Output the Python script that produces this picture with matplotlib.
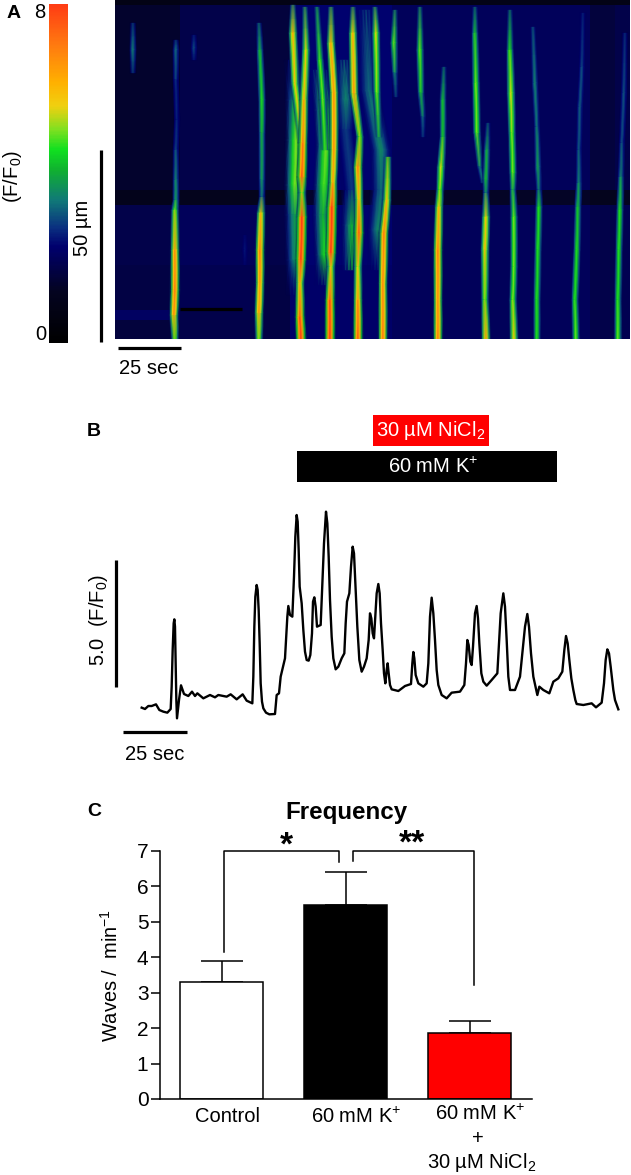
#!/usr/bin/env python3
"""Calcium wave figure: A line scan, B fluorescence trace, C wave frequency bars."""
import matplotlib
matplotlib.use('Agg')
import matplotlib.pyplot as plt
from matplotlib.cm import ScalarMappable
from matplotlib.colors import LinearSegmentedColormap, Normalize
import numpy as np

W, H = 631, 1175
matplotlib.rcParams.update({
    'font.family': 'Liberation Sans',
    'mathtext.fontset': 'custom',
    'mathtext.rm': 'Liberation Sans',
    'mathtext.it': 'Liberation Sans:italic',
    'mathtext.bf': 'Liberation Sans:bold',
    'mathtext.default': 'rm',
})
TEXT_SIZE = 14.5
LABEL_SIZE = 14

# ---- Panel A data, x and y in scan pixels, amp in F/F0 ----
SEC_PER_PX = 1 / 2.52
UM_PER_PX = 1 / 3.84
SCAN_X0, SCAN_X1, SCAN_Y0, SCAN_Y1 = 115, 630, 0, 339

scale_fracs = [0, 0.15, 0.285, 0.34, 0.42, 0.51, 0.57, 0.63, 0.70, 0.77, 0.88, 1]
scale_colors = ['#000000', '#040420', '#00006e', '#0a3080', '#107878', '#10b030',
                '#10e020', '#80e020', '#f0d010', '#ffb000', '#ff7a10', '#ff3c14']

bg_x_edges = [115, 180, 260, 290, 392, 590, 615, 630]
bg_y_edges = [0, 5, 190, 205, 265, 310, 320, 339]
bg_levels = [
    [0.8, 0.9, 0.8, 0.9, 0.9, 0.8, 0.8],
    [1.4, 1.8, 1.6, 2.3, 2.0, 1.6, 1.8],
    [1.0, 1.1, 1.0, 1.4, 1.3, 1.1, 1.2],
    [1.8, 2.0, 1.8, 2.3, 2.0, 1.8, 1.9],
    [1.7, 1.9, 1.7, 2.2, 2.0, 1.8, 1.9],
    [2.1, 1.8, 1.7, 2.2, 2.0, 1.8, 1.9],
    [1.6, 1.8, 1.7, 2.2, 2.0, 1.8, 1.9],
]

# diffuse glow around the clustered waves
d1_x = [295, 296, 296, 295, 295, 296, 297]
d1_y = [60, 100, 140, 185, 215, 260, 295]
d1_a = [2.8, 4.0, 5.0, 5.0, 3.8, 3.8, 2.4]
d2_x = [320, 324, 326, 324, 323, 325, 325]
d2_y = [70, 110, 145, 185, 215, 255, 285]
d2_a = [3.6, 4.6, 5.0, 4.8, 4.0, 4.6, 2.6]
d3_x = [344, 346, 346, 352, 352, 352]
d3_y = [60, 100, 130, 190, 225, 270]
d3_a = [3.2, 3.5, 2.8, 2.8, 4.0, 4.2]
d4_x = [366, 369, 381, 381, 378, 378]
d4_y = [10, 90, 150, 190, 230, 270]
d4_a = [3.0, 3.2, 3.6, 3.2, 3.6, 2.5]

# one streak per wave
w01_x = [133, 133, 133]
w01_y = [23, 50, 73]
w01_a = [2.6, 3.5, 2.6]
w02_x = [194, 194, 194]
w02_y = [35, 48, 60]
w02_a = [2.4, 3.0, 2.4]
w03_x = [245, 245, 245]
w03_y = [235, 250, 265]
w03_a = [2.2, 2.5, 2.2]
w04_x = [176, 176, 176, 177, 176, 176, 176, 175, 175, 175, 174, 175]
w04_y = [40, 50, 80, 120, 150, 180, 200, 210, 250, 290, 315, 339]
w04_a = [2.6, 3.3, 2.7, 2.5, 2.9, 3.5, 3.7, 5.0, 6.6, 7.0, 6.6, 4.8]
w05_x = [259, 260, 262, 262, 262, 262, 261, 260, 260, 259, 259]
w05_y = [23, 50, 100, 133, 180, 197, 213, 250, 283, 313, 339]
w05_a = [3.0, 4.0, 4.6, 4.0, 3.7, 3.2, 6.0, 7.0, 6.5, 6.5, 5.0]
w06_x = [293, 293, 295, 302]
w06_y = [5, 33, 83, 143]
w06_a = [3.5, 6.2, 5.8, 5.6]
w07_x = [305, 306, 304, 303, 302, 302, 302, 301, 300, 300, 301]
w07_y = [7, 50, 100, 143, 177, 193, 217, 260, 283, 317, 339]
w07_a = [3.5, 5.6, 6.2, 7.0, 7.6, 5.2, 8.0, 8.0, 6.0, 7.6, 8.0]
w08_x = [317, 320, 323, 325]
w08_y = [7, 60, 100, 150]
w08_a = [3.5, 4.8, 5.0, 4.6]
w09_x = [331, 331, 334, 334, 333, 332, 331, 331, 330, 330]
w09_y = [7, 43, 93, 150, 183, 207, 253, 267, 300, 339]
w09_a = [3.7, 6.2, 6.6, 6.6, 6.2, 8.0, 8.0, 5.6, 7.6, 8.0]
w10_x = [353, 353, 354, 360, 358, 359, 359, 358, 358, 358]
w10_y = [7, 33, 93, 137, 167, 200, 233, 267, 300, 339]
w10_a = [3.5, 6.0, 6.6, 5.0, 7.0, 6.0, 7.6, 5.6, 6.6, 7.6]
w11_x = [375, 376, 377, 379]
w11_y = [7, 33, 93, 137]
w11_a = [3.5, 5.6, 5.0, 4.0]
w12_x = [388, 387, 384, 383, 383]
w12_y = [157, 200, 233, 283, 339]
w12_a = [5.0, 6.0, 7.0, 6.6, 7.0]
w13_x = [395, 394, 395, 396]
w13_y = [10, 43, 73, 97]
w13_a = [3.2, 5.0, 3.5, 2.7]
w14_x = [420, 420, 421, 423, 423]
w14_y = [7, 50, 93, 117, 137]
w14_a = [3.2, 5.0, 4.2, 3.2, 2.7]
w15_x = [444, 443, 443, 441, 440, 439, 438, 438, 438]
w15_y = [67, 100, 137, 167, 190, 207, 250, 300, 339]
w15_a = [3.0, 4.2, 4.2, 5.6, 5.0, 6.0, 7.0, 6.6, 7.0]
w16_x = [475, 475, 476, 477, 480, 483]
w16_y = [7, 33, 83, 133, 167, 183]
w16_a = [3.0, 4.2, 5.0, 5.0, 3.3, 3.2]
w17_x = [488, 487, 486, 486, 486, 485, 485, 486]
w17_y = [123, 150, 180, 193, 217, 250, 300, 339]
w17_a = [2.8, 3.9, 4.2, 3.4, 5.8, 6.0, 5.0, 6.6]
w18_x = [510, 510, 511, 512, 513, 513, 514, 514, 513, 514]
w18_y = [10, 50, 93, 133, 173, 190, 217, 267, 300, 339]
w18_a = [3.0, 4.6, 5.6, 5.0, 5.0, 3.8, 5.0, 5.0, 5.0, 6.0]
w19_x = [533, 535, 537, 538, 539, 539, 538, 537, 537]
w19_y = [27, 83, 127, 167, 190, 207, 250, 300, 339]
w19_a = [2.9, 3.5, 3.2, 3.9, 3.2, 4.6, 4.6, 4.6, 4.6]
w20_x = [583, 582, 580, 579, 579, 578, 577, 575, 576]
w20_y = [13, 67, 107, 150, 183, 207, 250, 300, 339]
w20_a = [2.5, 2.9, 3.1, 3.0, 3.5, 4.2, 4.6, 4.6, 5.0]
w21_x = [625, 624, 622, 621, 620, 619, 618, 618]
w21_y = [33, 93, 143, 177, 210, 250, 300, 339]
w21_a = [2.6, 3.0, 2.9, 3.5, 4.6, 4.6, 4.6, 5.0]

TRACE_SEC_PER_UNIT = 25 / 190
TRACE_F_PER_UNIT = 5 / 380
TRACE_BASE = 905
trace_u = [185, 195, 205, 215, 228, 238, 250, 262, 272, 275, 278, 281, 283, 285, 287, 289, 291, 297,
           303, 312, 325, 336, 345, 352, 370, 390, 405, 415, 440, 452, 470, 488, 500, 517, 520, 523,
           526, 530, 533, 536, 539, 542, 546, 550, 558, 568, 585, 590, 597, 602, 615, 622, 625, 630,
           637, 642, 646, 650, 653, 656, 659, 665, 670, 675, 680, 686, 691, 696, 699, 703, 707, 711,
           722, 727, 732, 738, 742, 746, 750, 755, 760, 767, 775, 785, 793, 797, 801, 808, 813, 818,
           822, 827, 832, 838, 845, 852, 860, 866, 870, 874, 878, 882, 886, 890, 895, 899, 903, 908,
           912, 916, 920, 923, 926, 930, 935, 955, 975, 993, 997, 1000, 1003, 1007, 1015, 1030, 1040,
           1045, 1050, 1055, 1060, 1065, 1070, 1075, 1085, 1100, 1115, 1140, 1153, 1158, 1162, 1166,
           1171, 1175, 1179, 1185, 1190, 1194, 1198, 1204, 1210, 1220, 1235, 1252, 1257, 1262, 1270,
           1275, 1280, 1285, 1290, 1305, 1320, 1327, 1335, 1342, 1347, 1353, 1360, 1372, 1378, 1390,
           1408, 1420, 1435, 1447, 1453, 1458, 1463, 1468, 1474, 1480, 1486, 1490, 1510, 1535, 1548,
           1565, 1572, 1577, 1582, 1587, 1592, 1600, 1605, 1615]
trace_v = [893, 897, 888, 888, 883, 900, 905, 908, 897, 830, 720, 640, 628, 650, 760, 870, 925, 870,
           826, 852, 858, 845, 858, 850, 865, 855, 862, 855, 860, 853, 868, 853, 872, 880, 800, 650,
           560, 525, 540, 600, 700, 820, 875, 895, 908, 913, 912, 855, 850, 800, 745, 620, 588, 615,
           620, 500, 380, 315, 335, 420, 530, 580, 660, 725, 750, 752, 735, 670, 575, 562, 590, 650,
           645, 520, 400, 305, 340, 440, 570, 680, 745, 778, 770, 745, 730, 640, 575, 550, 470, 410,
           430, 540, 650, 750, 785, 770, 745, 690, 610, 625, 670, 685, 620, 550, 522, 550, 640, 720,
           790, 820, 780, 760, 790, 825, 838, 843, 828, 822, 760, 726, 745, 795, 820, 830, 820,
           760, 620, 563, 610, 690, 780, 825, 855, 865, 848, 845, 825, 760, 690, 705,
           755, 765, 710, 610, 588, 625, 700, 790, 815, 827, 810, 790, 700, 610, 550,
           590, 690, 800, 840, 840, 800, 730, 650, 612, 650, 730, 800, 855, 830, 840,
           850, 815, 805, 785, 720, 678, 700, 750, 805, 840, 870, 882, 885, 880, 892,
           878, 820, 750, 718, 730, 770, 840, 870, 898]

# ---- Panel C data ----
conditions = ['Control', '60 mM K$^{+}$', '60 mM K$^{+}$\n+\n30 µM NiCl$_{2}$']
frequency = [3.3, 5.47, 1.87]
frequency_err = [0.6, 0.95, 0.32]
bar_colors = ['white', 'black', '#ff0000']
y_ticks = [0, 1, 2, 3, 4, 5, 6, 7]


def px_axes(fig, x0, y0, x1, y1, **kw):
    """Axes placed by figure pixels, y counted from the top."""
    return fig.add_axes([x0 / W, 1 - y1 / H, (x1 - x0) / W, (y1 - y0) / H], **kw)


def scan_t(x):
    return (np.asarray(x, dtype=float) - SCAN_X0) * SEC_PER_PX


def scan_um(y):
    return (SCAN_Y1 - np.asarray(y, dtype=float)) * UM_PER_PX


def draw_streak(ax, x, y, amp, halfwidth=None, level=2.0):
    """Wave as a gouraud mesh: bright core fading sideways into the background."""
    x = np.asarray(x, dtype=float)
    amp = np.asarray(amp, dtype=float)
    hw = 1.8 + 0.55 * amp if halfwidth is None else np.full(len(x), float(halfwidth))
    offsets = np.array([-1, -0.6, -0.28, 0, 0.28, 0.6, 1])
    fade = np.array([0, 0.38, 0.78, 1, 0.78, 0.38, 0])
    alpha = np.array([0, 0.92, 1, 1, 1, 0.92, 0])
    X = scan_t(x[:, None] + hw[:, None] * offsets)
    Y = np.repeat(scan_um(y)[:, None], len(offsets), axis=1)
    vals = level + (amp[:, None] - level) * fade
    rgba = heat(norm(vals))
    rgba[..., 3] = alpha
    # let the ends of the streak die out along its length too
    rgba[0, :, 3] *= 0.25
    rgba[-1, :, 3] *= 1.0 if y[-1] >= SCAN_Y1 else 0.25
    ax.pcolormesh(X, Y, rgba, shading='gouraud', zorder=3, rasterized=True)


fig = plt.figure(figsize=(W / 100, H / 100), dpi=100, facecolor='white')
heat = LinearSegmentedColormap.from_list('heat', list(zip(scale_fracs, scale_colors)))
norm = Normalize(0, 8)

# ================================================================
# PANEL A: line scan and its colour scale
# ================================================================
axA = px_axes(fig, SCAN_X0, SCAN_Y0, SCAN_X1, SCAN_Y1)
axA.pcolormesh(scan_t(bg_x_edges), scan_um(bg_y_edges), np.array(bg_levels), cmap=heat, norm=norm)
for dx, dy, da in [(d1_x, d1_y, d1_a), (d2_x, d2_y, d2_a), (d3_x, d3_y, d3_a), (d4_x, d4_y, d4_a)]:
    draw_streak(axA, dx, dy, da, halfwidth=11)
for wx, wy, wa in [(w01_x, w01_y, w01_a), (w02_x, w02_y, w02_a), (w03_x, w03_y, w03_a),
                   (w04_x, w04_y, w04_a), (w05_x, w05_y, w05_a), (w06_x, w06_y, w06_a),
                   (w07_x, w07_y, w07_a), (w08_x, w08_y, w08_a), (w09_x, w09_y, w09_a),
                   (w10_x, w10_y, w10_a), (w11_x, w11_y, w11_a), (w12_x, w12_y, w12_a),
                   (w13_x, w13_y, w13_a), (w14_x, w14_y, w14_a), (w15_x, w15_y, w15_a),
                   (w16_x, w16_y, w16_a), (w17_x, w17_y, w17_a), (w18_x, w18_y, w18_a),
                   (w19_x, w19_y, w19_a), (w20_x, w20_y, w20_a), (w21_x, w21_y, w21_a)]:
    draw_streak(axA, wx, wy, wa)
axA.set_xlim(scan_t(SCAN_X0), scan_t(SCAN_X1))
axA.set_ylim(scan_um(SCAN_Y1), scan_um(SCAN_Y0))
axA.axis('off')

cax = px_axes(fig, 49, 4, 68, 343)
cb = fig.colorbar(ScalarMappable(norm=norm, cmap=heat), cax=cax, ticks=[])
cb.outline.set_visible(False)

# ================================================================
# PANEL B: fluorescence trace
# ================================================================
TR_X0, TR_X1, TR_Y0, TR_Y1 = 80, 631, 490, 730
axB = px_axes(fig, TR_X0, TR_Y0, TR_X1, TR_Y1)
trace_t = np.array(trace_u) * TRACE_SEC_PER_UNIT
trace_f = (TRACE_BASE - np.array(trace_v)) * TRACE_F_PER_UNIT
axB.plot(trace_t, trace_f, color='black', lw=1.7, solid_joinstyle='round')
sec_per_px = 3 * TRACE_SEC_PER_UNIT
f_per_px = 3 * TRACE_F_PER_UNIT
base_px = 410 + TRACE_BASE / 3
axB.set_xlim(0, (TR_X1 - TR_X0) * sec_per_px)
axB.set_ylim((base_px - TR_Y1) * f_per_px, (base_px - TR_Y0) * f_per_px)
axB.axis('off')

# ================================================================
# PANEL C: wave frequency
# ================================================================
axC = px_axes(fig, 160, 851, 532, 1099)
xpos = np.arange(len(frequency))
axC.bar(xpos, frequency, width=0.67, color=bar_colors, edgecolor='black', linewidth=1.1, zorder=2)
axC.errorbar(xpos, frequency, yerr=[[0, 0, 0], frequency_err], fmt='none', ecolor='black',
             elinewidth=1.1, capsize=15, capthick=1.1, zorder=1)
axC.set_xlim(-0.496, 2.504)
axC.set_ylim(0, 7)
axC.set_yticks(y_ticks)
axC.set_xticks([])
axC.tick_params(axis='y', labelsize=15, length=6.3, width=1.1, pad=2)
axC.spines[['top', 'right']].set_visible(False)
axC.spines[['left', 'bottom']].set_linewidth(1.1)
axC.set_ylabel('Waves /  min$^{-1}$', fontsize=14.4, labelpad=11)
# significance brackets
axC.plot([0.02, 0.02, 0.95, 0.95], [4.16, 7.0, 7.0, 6.68], color='black', lw=1.1, clip_on=False)
axC.plot([1.063, 1.063, 2.034, 2.034], [6.71, 7.0, 7.0, 3.22], color='black', lw=1.1, clip_on=False)

# ================================================================
# Overlay in figure pixels: scale bars, treatment bars, labels
# ================================================================
ov = fig.add_axes([0, 0, 1, 1], zorder=10)
ov.set_xlim(0, W)
ov.set_ylim(H, 0)
ov.axis('off')
ov.patch.set_visible(False)

for x0, y0, x1, y1 in [(101, 150, 101, 342), (118, 348, 181, 348), (180, 309, 242, 309),
                       (116, 560, 116, 687), (123, 732, 187, 732)]:
    ov.plot([x0, x1], [y0, y1], color='black', lw=2.3, solid_capstyle='butt')

ov.add_patch(plt.Rectangle((373, 415), 116, 31, color='#ff0000', lw=0))
ov.add_patch(plt.Rectangle((297, 451), 260, 31, color='black', lw=0))
ov.text(431, 430, '30 µM NiCl$_{2}$', color='white', fontsize=TEXT_SIZE, ha='center', va='center')
ov.text(433, 467, '60 mM K$^{+}$', color='white', fontsize=TEXT_SIZE, ha='center', va='center')

for s, x, y in [('A', 14, 14), ('B', 94, 431), ('C', 94, 812)]:
    ov.text(x, y, s, fontsize=LABEL_SIZE, fontweight='bold', ha='center', va='center')

ov.text(40, 12, '8', fontsize=TEXT_SIZE, ha='center', va='center')
ov.text(41, 334, '0', fontsize=TEXT_SIZE, ha='center', va='center')
ov.text(13, 177, '(F/F$_{0}$)', fontsize=TEXT_SIZE, rotation=90, ha='center', va='center')
ov.text(83, 228, '50 µm', fontsize=TEXT_SIZE, rotation=90, ha='center', va='center')
ov.text(149, 369, '25 sec', fontsize=TEXT_SIZE, ha='center', va='center')
ov.text(155, 755, '25 sec', fontsize=TEXT_SIZE, ha='center', va='center')
ov.text(98, 620, '5.0  (F/F$_{0}$)', fontsize=TEXT_SIZE, rotation=90, ha='center', va='center')

ov.text(346, 812, 'Frequency', fontsize=17.4, fontweight='bold', ha='center', va='center')
ov.text(286, 846, '*', fontsize=24, fontweight='bold', ha='center', va='center')
ov.text(412, 844, '**', fontsize=24, fontweight='bold', ha='center', va='center')

ov.text(227, 1117, conditions[0], fontsize=TEXT_SIZE, ha='center', va='center')
ov.text(356, 1117, conditions[1], fontsize=TEXT_SIZE, ha='center', va='center')
for line, x, y in zip(conditions[2].split('\n'), [480, 478, 482], [1114, 1138, 1162]):
    ov.text(x, y, line, fontsize=TEXT_SIZE, ha='center', va='center')

fig.savefig('out.png', dpi=100, facecolor='white')
print('Saved: out.png')
